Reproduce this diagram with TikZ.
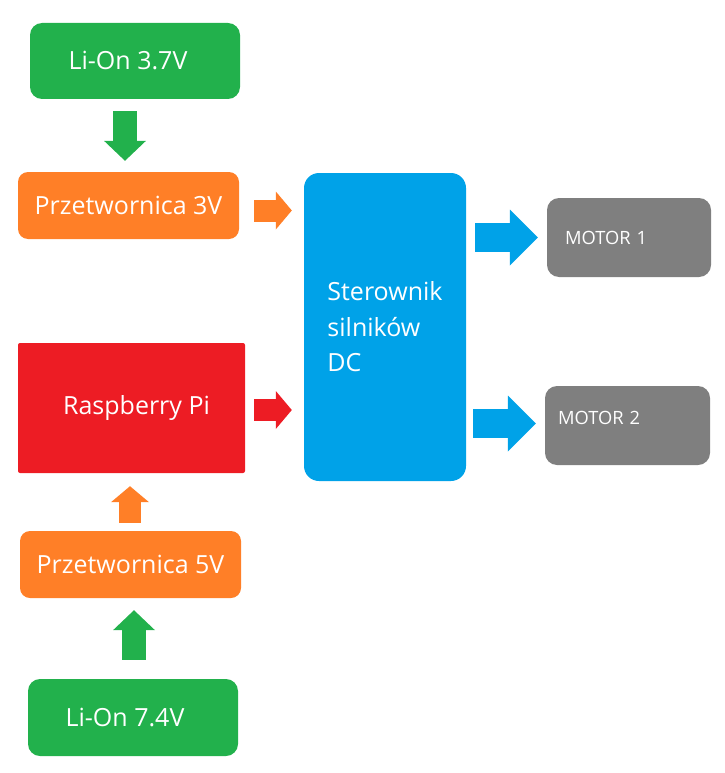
\documentclass[tikz,border=0pt]{standalone}
\usepackage{fontspec}
\setmainfont{Open Sans}
\usetikzlibrary{arrows.meta,calc}

\definecolor{CellGreen}{RGB}{34,177,76}
\definecolor{ConvOrange}{RGB}{255,127,39}
\definecolor{PiRed}{RGB}{237,28,36}
\definecolor{DriverBlue}{RGB}{0,162,232}
\definecolor{MotorGray}{RGB}{127,127,127}

\begin{document}
\begin{tikzpicture}[x=1pt, y=-1pt,
	box/.style={fill=#1, text=white, inner sep=0pt, font=\fontsize{25}{30}\selectfont},
	cell/.style={box=CellGreen, rounded corners=12pt, minimum width=210pt, minimum height=76pt},
	conv/.style={box=ConvOrange, rounded corners=10pt, minimum width=221pt, minimum height=67pt},
	motor/.style={box=MotorGray, rounded corners=12pt, minimum height=79pt, align=left, font=\fontsize{18.3}{22}\selectfont},
	narrowarrow/.style={line width=22pt, -{Triangle[length=16pt, width=38pt, line width=0pt]}},
	midarrow/.style={line width=24pt, -{Triangle[length=20pt, width=42pt, line width=0pt]}},
	widearrow/.style={line width=29pt, -{Triangle[length=28pt, width=56pt, line width=0pt]}}]
	\useasboundingbox (0,0) rectangle (724,773);

	\node[cell] (li37) at (135,61) {Li-On 3.7V\kern14pt};
	\node[conv] (p3) at (128.5,205.5) {Przetwornica 3V};
	\node[box=PiRed, rounded corners=2pt, minimum width=227pt, minimum height=130pt] (rpi) at (131.5,408) {\kern10pt Raspberry Pi};
	\node[conv] (p5) at (130.5,564.5) {Przetwornica 5V};
	\node[cell, minimum height=77pt] (li74) at (133,717.5) {Li-On 7.4V\kern16pt};

	\node[box=DriverBlue, rounded corners=15pt, minimum width=162pt, minimum height=308pt, align=left, font=\fontsize{25}{35.5}\selectfont] (drv) at (385,327) {Sterownik\\silników\\DC};

	\node[motor, inner xsep=18pt, text width=128pt] (m1) at (629,237.5) {MOTOR 1};
	\node[motor, inner xsep=13pt, text width=139pt, text depth=16pt] (m2) at (627.5,425.5) {MOTOR 2};

	\draw[midarrow, CellGreen] ($(li37.south)+(-10,12)$) -- ($(p3.north)+(-3.5,-11)$);
	\draw[narrowarrow, ConvOrange] ($(p3.east)+(15,5)$) -- ($(p3.east -| drv.west)+(-12,5)$);
	\draw[narrowarrow, PiRed] ($(rpi.east)+(9,2)$) -- ($(rpi.east -| drv.west)+(-12,2)$);
	\draw[narrowarrow, ConvOrange] ($(p5.north)+(-0.5,-8)$) -- ($(rpi.south)+(-1.5,13)$);
	\draw[midarrow, CellGreen] ($(li74.north)+(1,-19)$) -- ($(p5.south)+(3.5,12)$);

	\draw[widearrow, DriverBlue] ($(m1.west -| drv.east)+(9,0)$) -- ($(m1.west)+(-9,0)$);
	\draw[widearrow, DriverBlue] ($(m2.west -| drv.east)+(7,-2)$) -- ($(m2.west)+(-9,-2)$);

\end{tikzpicture}
\end{document}
